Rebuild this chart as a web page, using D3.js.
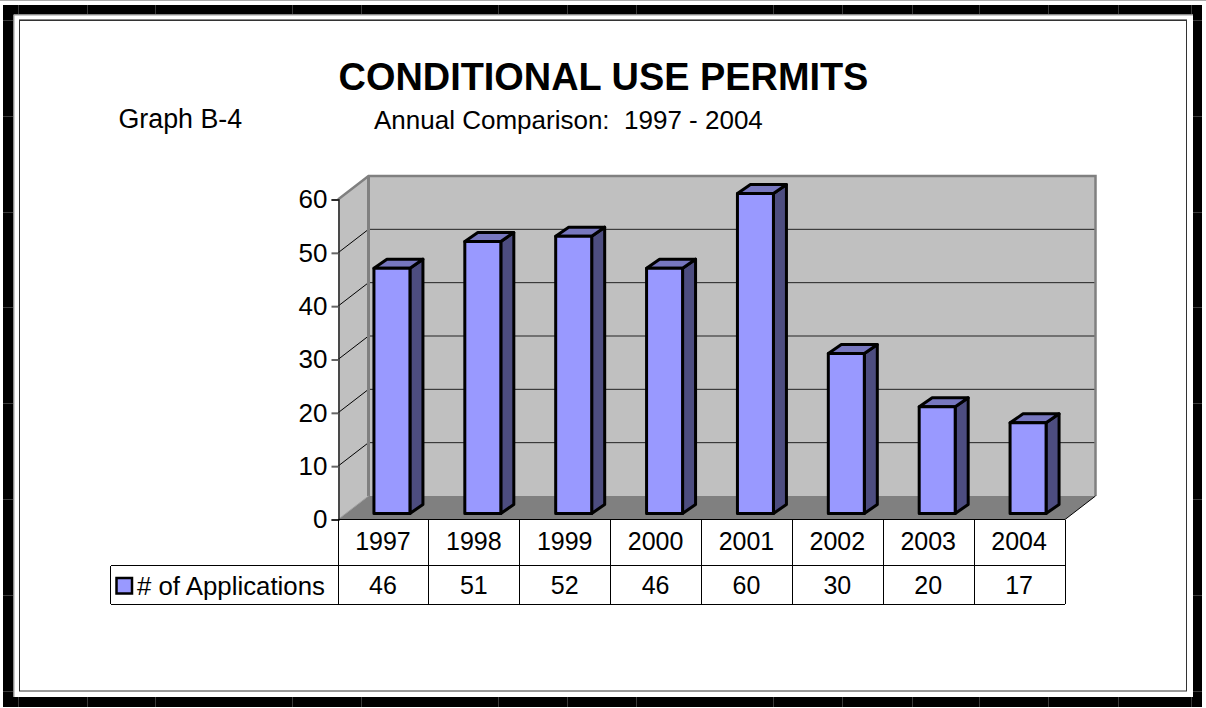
<!DOCTYPE html>
<html><head><meta charset="utf-8">
<script src="https://cdn.jsdelivr.net/npm/d3@7"></script>
<style>
html,body{margin:0;padding:0;background:#fff;overflow:hidden}
text{font-family:"Liberation Sans",Arial,sans-serif;fill:#000}
</style></head><body><div id="c"></div>
<script>
const categories=["1997","1998","1999","2000","2001","2002","2003","2004"];
const values=[46,51,52,46,60,30,20,17];
const seriesName="# of Applications";
const yTicks=[0,10,20,30,40,50,60];
const title="CONDITIONAL USE PERMITS";
const graphLabel="Graph B-4";
const subtitle="Annual Comparison:  1997 - 2004";
// faint scan seams visible across the page border
const seamX=[18,87,155,292,361,498,567,636,773,842,912,979,1048,1118,1191];
const seamY=[20,116,212,307,403,499,595,691];

const W=1206,H=708;
const svg=d3.select("#c").append("svg").attr("width",W).attr("height",H).style("display","block");
svg.append("rect").attr("width",W).attr("height",H).attr("fill","#fff");

// frame
svg.append("line").attr("x1",0).attr("x2",W).attr("y1",0.5).attr("y2",0.5).attr("stroke","#aaa");
svg.append("path").attr("fill-rule","evenodd").attr("fill","#000")
  .attr("d","M3,5H1202V707H3Z M13.5,14.5V697H1193V14.5Z");
svg.append("path").attr("fill","none").attr("stroke","#999").attr("d","M14,697V15H1193");
svg.append("rect").attr("x",19.5).attr("y",20.5).attr("width",1167).attr("height",670.5)
  .attr("fill","#fff").attr("stroke","#333").attr("stroke-width",1);
svg.append("line").attr("x1",19).attr("x2",1187).attr("y1",19.5).attr("y2",19.5).attr("stroke","#888");
const seams=svg.append("g").attr("stroke","#3a3a3a").attr("stroke-width",1).attr("shape-rendering","crispEdges");
seams.selectAll(".sx").data(seamX).join("line").attr("class","sx").attr("x1",d=>d+.5).attr("x2",d=>d+.5).attr("y1",5).attr("y2",14);
seams.selectAll(".sb").data(seamX).join("line").attr("class","sb").attr("x1",d=>d+.5).attr("x2",d=>d+.5).attr("y1",697).attr("y2",707);
seams.selectAll(".sy").data(seamY).join("line").attr("class","sy").attr("x1",3).attr("x2",13).attr("y1",d=>d+.5).attr("y2",d=>d+.5);
seams.selectAll(".sr").data(seamY).join("line").attr("class","sr").attr("x1",1193).attr("x2",1202).attr("y1",d=>d+.5).attr("y2",d=>d+.5);

// scales
const x=d3.scaleBand().domain(categories).range([338,1065]);
const y=d3.scaleLinear().domain([0,60]).range([519.5,199.5]);
const dx=30.5,dy=-23.5;        // chart depth
const bdx=8,bdy=-6;            // bar front offset from the front plane
const sdx=13,sdy=-9;           // bar own depth
const bw=36;

const g=svg.append("g");
const pts=a=>a.map(p=>p.join(",")).join(" ");
const x0=x.range()[0],x1=x.range()[1];
const yT=y(60),yB=y(0);

// side wall, back wall, floor
g.append("polygon").attr("points",pts([[x0,yT],[x0+dx,yT+dy],[x0+dx,yB+dy],[x0,yB]])).attr("fill","#C0C0C0");
g.append("polygon").attr("points",pts([[x0+dx,yT+dy],[x1+dx,yT+dy],[x1+dx,yB+dy],[x0+dx,yB+dy]])).attr("fill","#C0C0C0");
g.append("polygon").attr("points",pts([[x0,yB],[x0+dx,yB+dy],[x1+dx,yB+dy],[x1,yB]])).attr("fill","#808080");

// gridlines
const inner=yTicks.filter(d=>d>0&&d<60);
g.selectAll(".gb").data(inner).join("line").attr("class","gb")
  .attr("x1",x0+dx).attr("x2",x1+dx).attr("y1",d=>y(d)+dy).attr("y2",d=>y(d)+dy)
  .attr("stroke","#222").attr("stroke-width",1);
g.selectAll(".gs").data(inner).join("line").attr("class","gs")
  .attr("x1",x0).attr("x2",x0+dx).attr("y1",d=>y(d)).attr("y2",d=>y(d)+dy)
  .attr("stroke","#000").attr("stroke-width",1);

// wall borders
g.append("polyline").attr("points",pts([[x0,yT],[x0+dx,yT+dy],[x1+dx,yT+dy],[x1+dx,yB+dy]]))
  .attr("fill","none").attr("stroke","#808080").attr("stroke-width",2.5);
g.append("line").attr("x1",x0+dx).attr("x2",x0+dx).attr("y1",yT+dy).attr("y2",yB+dy)
  .attr("stroke","#808080").attr("stroke-width",3);
g.append("line").attr("x1",x0).attr("x2",x0+dx).attr("y1",yB).attr("y2",yB+dy).attr("stroke","#a0a0a0").attr("stroke-width",1);

// bars
const bars=g.selectAll(".bar").data(categories.map((c,i)=>({c,v:values[i]}))).join("g").attr("class","bar")
  .attr("stroke","#000").attr("stroke-width",3).attr("stroke-linejoin","round");
const bl=d=>x(d.c)+x.bandwidth()/2-bw/2+bdx+.5;
bars.append("polygon").attr("fill","#4D4D80").attr("points",d=>{
  const l=bl(d)+bw,t=y(d.v)+bdy,b=y(0)+bdy;
  return pts([[l,t],[l+sdx,t+sdy],[l+sdx,b+sdy],[l,b]]);});
bars.append("polygon").attr("fill","#7777BF").attr("points",d=>{
  const l=bl(d),t=y(d.v)+bdy;
  return pts([[l,t],[l+sdx,t+sdy],[l+bw+sdx,t+sdy],[l+bw,t]]);});
bars.append("rect").attr("fill","#9999FF")
  .attr("x",bl).attr("y",d=>y(d.v)+bdy).attr("width",bw).attr("height",d=>y(0)-y(d.v));

// y axis
const ax=svg.append("g").attr("transform",`translate(${x0+.5},0)`)
  .call(d3.axisLeft(y).tickValues(yTicks).tickSize(7).tickPadding(4));
ax.selectAll("path").attr("stroke","#222").attr("stroke-width",1.5);
ax.selectAll(".tick line").attr("stroke",d=>(d===0||d===60)?"#000":"#666").attr("stroke-width",d=>(d===0||d===60)?1:2);
ax.selectAll("text").attr("font-size",26).attr("font-family","Liberation Sans");

// data table
const tY0=yB,tY1=565.5,tY2=604,tL=110.5;
const tb=svg.append("g").attr("stroke","#000").attr("stroke-width",1).attr("shape-rendering","crispEdges");
tb.append("line").attr("x1",x0).attr("x2",x1).attr("y1",tY0).attr("y2",tY0);
tb.append("line").attr("x1",tL).attr("x2",x1).attr("y1",tY1).attr("y2",tY1);
tb.append("line").attr("x1",tL).attr("x2",x1).attr("y1",tY2).attr("y2",tY2);
tb.append("line").attr("x1",tL).attr("x2",tL).attr("y1",tY1).attr("y2",tY2);
tb.selectAll(".v").data(categories.concat(["end"])).join("line").attr("class","v")
  .attr("x1",(d,i)=>x0+i*x.step()).attr("x2",(d,i)=>x0+i*x.step()).attr("y1",tY0).attr("y2",tY2);
svg.append("line").attr("x1",x1).attr("x2",x1+dx).attr("y1",yB).attr("y2",yB+dy).attr("stroke","#000");

const mid=d=>x(d)+x.bandwidth()/2-.5;
svg.selectAll(".cat").data(categories).join("text").attr("class","cat")
  .attr("x",mid).attr("y",550).attr("text-anchor","middle").attr("font-size",25).text(d=>d);
svg.selectAll(".val").data(categories).join("text").attr("class","val")
  .attr("x",mid).attr("y",593.5).attr("text-anchor","middle").attr("font-size",25).text((d,i)=>values[i]);

// legend
svg.append("rect").attr("x",116.5).attr("y",578).attr("width",15.5).attr("height",15.5)
  .attr("fill","#9999FF").attr("stroke","#000").attr("stroke-width",2.5);
svg.append("text").attr("x",137).attr("y",594.5).attr("font-size",25.8).text(seriesName);

// titles
svg.append("text").attr("x",603.5).attr("y",89.5).attr("text-anchor","middle")
  .attr("font-size",37.9).attr("font-weight","bold").text(title);
svg.append("text").attr("x",118.5).attr("y",128).attr("font-size",26.8).text(graphLabel);
svg.append("text").attr("x",374).attr("y",129).attr("font-size",26).style("white-space","pre").text(subtitle);
</script></body></html>
